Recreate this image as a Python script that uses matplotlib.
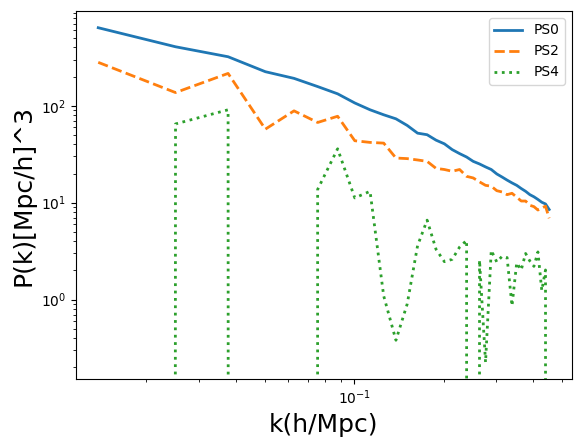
import numpy as np
import matplotlib
matplotlib.use('Agg')
import matplotlib.pyplot as plt

#%% data
k = [0.0138, 0.0251, 0.0377, 0.0503, 0.0628, 0.0754, 0.0880, 0.1005, 0.1131,
     0.1257, 0.1382, 0.1508, 0.1634, 0.1759, 0.1885, 0.2011, 0.2136, 0.2262,
     0.2388, 0.2513, 0.2639, 0.2765, 0.2890, 0.3016, 0.3142, 0.3267, 0.3393,
     0.3519, 0.3644, 0.3770, 0.3896, 0.4021, 0.4147, 0.4273, 0.4398, 0.4524]

ps0 = [640, 407, 321, 225, 192, 158, 133, 107, 91, 80.8, 73.4, 62.7,
       52.2, 50.3, 44.2, 40.5, 35.3, 32.1, 29.6, 26.7, 25.1, 23.4, 22.0, 19.8,
       18.4, 17.1, 16.0, 15.1, 14.0, 13.1, 12.1, 11.5, 10.8, 10.1, 9.7, 8.5]

ps2 = [281, 137, 216, 57.4, 88.7, 67.3, 78.0, 43.6, 41.9, 41.2, 28.9, 28.5,
       27.6, 26.7, 22.6, 22.0, 21.1, 22.0, 18.7, 18.0, 16.4, 15.1, 14.8, 13.3,
       12.9, 12.1, 12.5, 11.4, 10.4, 10.4, 9.4, 9.1, 8.4, 8.8, 9.2, 6.9]

# negative values drop out of the log axis
ps4 = [-12.0, 65.0, 91.0, -8.0, -5.0, 13.7, 36.0, 11.2, 13.1, 1.09, 0.38, 0.90,
       3.6, 6.6, 3.3, 2.46, 2.6, 3.48, 4.08, -1.5, 2.55, 0.225, 3.22, 2.44,
       2.79, 2.71, 0.86, 2.39, 2.02, 2.99, 2.5, 2.2, 3.1, 1.24, 2.02, -1.0]

#%% 그래프
fig = plt.figure(figsize=(5.8, 4.47), dpi=100)
ax = fig.add_axes([0.1305, 0.1521, 0.8552, 0.8233])

ax.plot(k, ps0, '-', lw=2, label='PS0')
ax.plot(k, ps2, '--', lw=2, label='PS2')
ax.plot(k, ps4, ':', lw=2, label='PS4')

ax.set_xscale('log')
ax.set_yscale('log')

ax.set_xlabel('k(h/Mpc)', fontsize=18)
ax.set_ylabel('P(k)[Mpc/h]^3', fontsize=18)
ax.legend(loc='upper right')

fig.savefig('out.png', dpi=100)
